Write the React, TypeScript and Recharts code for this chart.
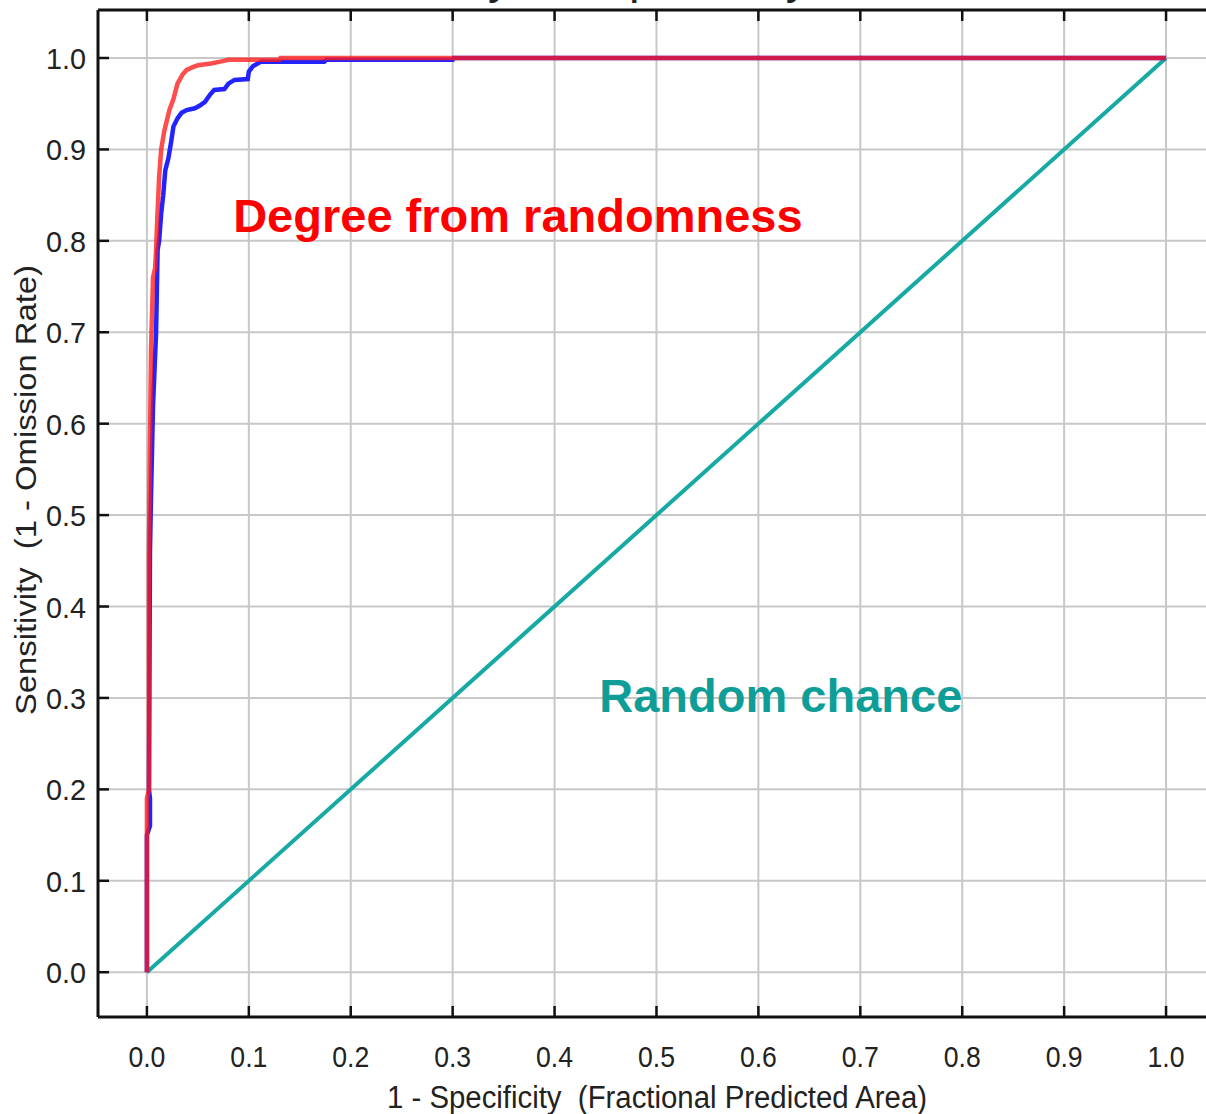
import React from 'react';
import { LineChart, Line, XAxis, YAxis, CartesianGrid, ReferenceLine, ReferenceDot } from 'recharts';

// training curve (red)
const trainX = [0, 0, 0.002, 0.002, 0.003, 0.004, 0.006, 0.008, 0.009, 0.01, 0.012, 0.014, 0.017, 0.022, 0.026, 0.03, 0.035, 0.039, 0.045, 0.05, 0.063, 0.072, 0.08, 0.086, 0.13, 0.131, 1.0];
const trainY = [0, 0.19, 0.2, 0.46, 0.58, 0.68, 0.76, 0.77, 0.79, 0.82, 0.87, 0.9, 0.92, 0.943, 0.955, 0.972, 0.982, 0.987, 0.99, 0.992, 0.994, 0.996, 0.998, 0.998, 0.998, 1.0, 1.0];

// test curve (blue)
const testX = [0, 0, 0.003, 0.003, 0.002, 0.003, 0.004, 0.006, 0.009, 0.0105, 0.012, 0.014, 0.016, 0.018, 0.021, 0.024, 0.026, 0.03, 0.034, 0.039, 0.047, 0.052, 0.057, 0.062, 0.066, 0.076, 0.08, 0.086, 0.099, 0.1, 0.104, 0.112, 0.174, 0.176, 0.3, 0.301, 1.0];
const testY = [0, 0.15, 0.16, 0.19, 0.2, 0.46, 0.52, 0.62, 0.7, 0.79, 0.8, 0.83, 0.85, 0.877, 0.89, 0.91, 0.925, 0.934, 0.94, 0.943, 0.945, 0.948, 0.952, 0.96, 0.965, 0.966, 0.972, 0.976, 0.977, 0.985, 0.991, 0.996, 0.996, 0.998, 0.998, 1.0, 1.0];

// random prediction
const randX = [0, 1];
const randY = [0, 1];

const ticks = [0, 0.1, 0.2, 0.3, 0.4, 0.5, 0.6, 0.7, 0.8, 0.9, 1.0];

const toRows = (xs: number[], ys: number[]) => xs.map((x, i) => ({ x, y: ys[i] }));
const trainData = toRows(trainX, trainY);
const testData = toRows(testX, testY);
const randData = toRows(randX, randY);

const FONT = '"Liberation Sans", Arial, sans-serif';
const PLOT_TOP = 10;

const XTick = (props: any) => {
  const { x, y, payload } = props;
  return (
    <g>
      <line x1={x} x2={x} y1={y} y2={y - 11} stroke="#111" strokeWidth={2.5} />
      <line x1={x} x2={x} y1={PLOT_TOP} y2={PLOT_TOP + 11} stroke="#111" strokeWidth={2.5} />
      <text x={x} y={y + 50} textAnchor="middle" fontFamily={FONT} fontSize={30} fill="#222" textLength={37} lengthAdjust="spacingAndGlyphs">
        {payload.value.toFixed(1)}
      </text>
    </g>
  );
};

const YTick = (props: any) => {
  const { x, y, payload } = props;
  return (
    <g>
      <line x1={x} x2={x + 11} y1={y} y2={y} stroke="#111" strokeWidth={2.5} />
      <text x={x - 12} y={y + 11} textAnchor="end" fontFamily={FONT} fontSize={30} fill="#222" textLength={40} lengthAdjust="spacingAndGlyphs">
        {payload.value.toFixed(1)}
      </text>
    </g>
  );
};

export default function App() {
  return (
    <div style={{ position: 'absolute', left: 0, top: 0, width: 1206, height: 1114, overflow: 'hidden', background: '#fff' }}>
      <LineChart width={1230} height={1114} margin={{ top: PLOT_TOP, right: 13, bottom: 0, left: 0 }}>
        <CartesianGrid stroke="#c8c8c8" strokeWidth={2} />
        <XAxis
          type="number"
          dataKey="x"
          domain={[-0.048, 1.05]}
          ticks={ticks}
          allowDataOverflow
          height={97}
          tickSize={0}
          tickMargin={0}
          tickLine={false}
          tick={<XTick />}
          axisLine={{ stroke: '#111', strokeWidth: 3 }}
          label={{
            content: () => (
              <text x={657} y={1108} textAnchor="middle" fontFamily={FONT} fontSize={31} fill="#222" textLength={540} lengthAdjust="spacingAndGlyphs" style={{ whiteSpace: 'pre' }}>
                {'1 - Specificity  (Fractional Predicted Area)'}
              </text>
            ),
          }}
        />
        <YAxis
          type="number"
          dataKey="y"
          domain={[-0.049, 1.0525]}
          ticks={ticks}
          allowDataOverflow
          width={98}
          tickSize={0}
          tickMargin={0}
          tickLine={false}
          tick={<YTick />}
          axisLine={{ stroke: '#111', strokeWidth: 3 }}
          label={{
            content: () => (
              <text x={36} y={490} transform="rotate(-90 36 490)" textAnchor="middle" fontFamily={FONT} fontSize={30} fill="#222" textLength={450} lengthAdjust="spacingAndGlyphs" style={{ whiteSpace: 'pre' }}>
                {'Sensitivity  (1 - Omission Rate)'}
              </text>
            ),
          }}
        />
        <ReferenceLine
          y={1.0525}
          stroke="#111"
          strokeWidth={3}
          label={{
            content: () => (
              <text x={300} y={-7} fontFamily={FONT} fontSize={47} fill="#222">
                Sensitivity vs. Specificity
              </text>
            ),
          }}
        />
        <Line data={randData} dataKey="y" type="linear" stroke="#17a9a3" strokeWidth={4} dot={false} isAnimationActive={false} />
        <Line data={testData} dataKey="y" type="linear" stroke="#2323ff" strokeWidth={4.5} dot={false} isAnimationActive={false} />
        <Line data={trainData} dataKey="y" type="linear" stroke="#ff1a1a" strokeOpacity={0.78} strokeWidth={4.5} dot={false} isAnimationActive={false} />
        <ReferenceDot
          x={0.364}
          y={0.828}
          r={0}
          stroke="none"
          label={{ value: 'Degree from randomness', position: 'center', fill: '#ff0000', fontSize: 47, fontWeight: 'bold', fontFamily: FONT }}
        />
        <ReferenceDot
          x={0.622}
          y={0.303}
          r={0}
          stroke="none"
          label={{ value: 'Random chance', position: 'center', fill: '#0f9e97', fontSize: 47, fontWeight: 'bold', fontFamily: FONT }}
        />
      </LineChart>
    </div>
  );
}
